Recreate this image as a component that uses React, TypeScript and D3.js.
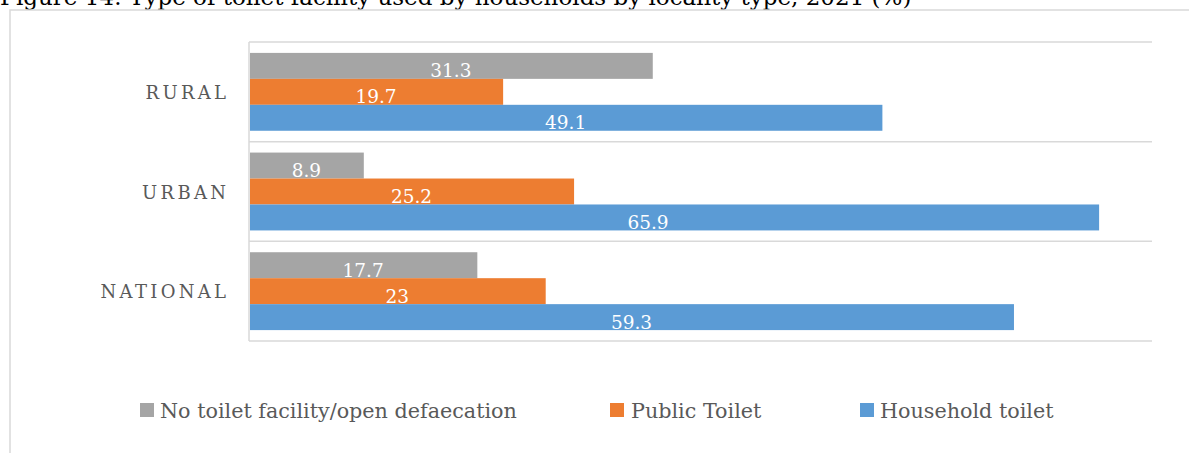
import React from "react";
import * as d3 from "d3";

const categories = ["RURAL", "URBAN", "NATIONAL"];
const seriesNames = ["No toilet facility/open defaecation", "Public Toilet", "Household toilet"];
const noToilet = [31.3, 8.9, 17.7];
const publicToilet = [19.7, 25.2, 23];
const household = [49.1, 65.9, 59.3];
const seriesValues = [noToilet, publicToilet, household];
const seriesColors = ["#a5a5a5", "#ed7d31", "#5b9bd5"];
const xMax = 70;
const title = "Figure 14: Type of toilet facility used by households by locality type, 2021 (%)";

const W = 1189;
const H = 453;
const SERIF = "'DejaVu Serif', serif";

export default function App() {
  const plotLeft = 249;
  const plotRight = 1152;
  const plotTop = 42;
  const plotBottom = 341;

  const x = d3.scaleLinear().domain([0, xMax]).range([plotLeft, plotRight]);
  const y = d3.scaleBand<string>().domain(categories).range([plotTop, plotBottom]).paddingInner(0).paddingOuter(0);
  const inner = d3
    .scaleBand<number>()
    .domain(seriesValues.map((_, i) => i))
    .range([0, y.bandwidth()])
    .paddingInner(0)
    .paddingOuter(0.42);

  const gridYs = categories.map((c) => y(c) as number).concat([plotBottom]);

  const legendItems = [
    { sq: 140, tx: 160 },
    { sq: 610, tx: 631 },
    { sq: 860, tx: 880 },
  ];

  // the reference shows the URBAN household label nudged left of the bar centre
  const labelShift = (ci: number, si: number) => (ci === 1 && si === 2 ? -26 : 0);

  return (
    <svg
      width={W}
      height={H}
      style={{ position: "absolute", left: 0, top: 0, background: "#fff" }}
    >
      <text x={0} y={5} fontFamily={SERIF} fontSize={23} fill="#000">
        {title}
      </text>
      <rect x={10} y={10} width={1400} height={700} fill="none" stroke="#d9d9d9" strokeWidth={1.5} />
      {gridYs.map((gy, i) => (
        <line key={i} x1={plotLeft} x2={plotRight} y1={gy} y2={gy} stroke="#d9d9d9" strokeWidth={1.5} />
      ))}
      <line x1={plotLeft} x2={plotLeft} y1={plotTop} y2={plotBottom} stroke="#d9d9d9" strokeWidth={1.5} />
      {categories.map((c, ci) => (
        <g key={c}>
          {seriesValues.map((vals, si) => {
            const by = (y(c) as number) + (inner(si) as number);
            const bh = inner.bandwidth();
            const x0 = x(0) + 1;
            const x1 = x(vals[ci]);
            return (
              <g key={si}>
                <rect x={x0} y={by} width={x1 - x0} height={bh} fill={seriesColors[si]} />
                <text
                  x={(x(0) + x1) / 2 + labelShift(ci, si)}
                  y={by + bh - 1.5}
                  textAnchor="middle"
                  fontFamily={SERIF}
                  fontSize={18.5}
                  fill="#fff"
                >
                  {String(vals[ci])}
                </text>
              </g>
            );
          })}
          <text
            x={229.3}
            y={(y(c) as number) + y.bandwidth() / 2 + 7}
            textAnchor="end"
            fontFamily={SERIF}
            fontSize={18}
            letterSpacing={3.3}
            fill="#595959"
          >
            {c}
          </text>
        </g>
      ))}
      {seriesNames.map((n, i) => (
        <g key={n}>
          <rect x={legendItems[i].sq} y={403} width={14} height={14} fill={seriesColors[i]} />
          <text x={legendItems[i].tx} y={418} fontFamily={SERIF} fontSize={20.7} fill="#595959">
            {n}
          </text>
        </g>
      ))}
    </svg>
  );
}
